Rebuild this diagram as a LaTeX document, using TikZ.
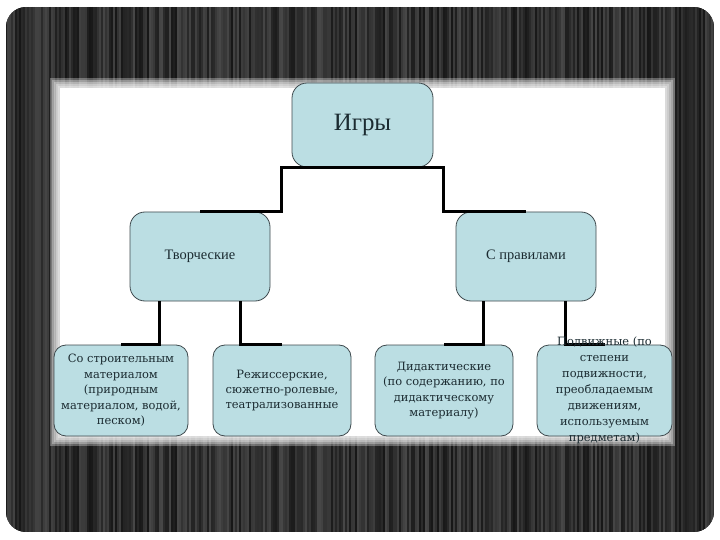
\documentclass[tikz,border=0pt]{standalone}
\usepackage{fontspec}
\setmainfont{Liberation Serif}
\newfontfamily\leaffont{DejaVu Serif}
\usepackage{xcolor}
\usetikzlibrary{calc}
\definecolor{boxfill}{HTML}{BBDEE3}
\definecolor{boxline}{HTML}{3F4A4E}
\definecolor{inktext}{HTML}{1B2B31}

\begin{document}
\begin{tikzpicture}[x=1bp,y=-1bp]
\tikzstyle{box}=[draw=boxline,fill=boxfill,rounded corners=15bp,line width=0.8bp,text=inktext,inner sep=0pt,align=center]
\tikzstyle{leaf}=[box,rounded corners=12bp,minimum height=91bp,font=\leaffont\fontsize{11.5}{15.5}\selectfont]
\tikzstyle{link}=[line width=3bp,black]
\useasboundingbox (0,0) rectangle (720,540);
% dark striped frame
\begin{scope}
\clip[rounded corners=20bp] (6,7) rectangle (714,532);
\fill[black!82] (6,7) rectangle (714,532);
\pgfmathsetseed{7}
\foreach \x in {6,8,...,714}{
  \pgfmathsetmacro\sh{int(72+20*rnd)}
  \draw[black!\sh,line width=1.1bp] (\x,7) -- (\x,532);
}
\end{scope}
% white panel, soft edge
\foreach \k in {0,...,5}
  \fill[white,opacity=0.3] ({50+2*\k},{78+2*\k}) rectangle ({675-2*\k},{446-2*\k});
\fill[white] (60,88) rectangle (665,436);
% the tree
\node[box,minimum width=141bp,minimum height=84bp,font=\fontsize{25}{28}\selectfont] (igry) at (362.5,125) {Игры};
\node[box,minimum width=140bp,minimum height=89bp,font=\fontsize{14.5}{17}\selectfont] (tv) at (200,256.5) {Творческие};
\node[box,minimum width=140bp,minimum height=89bp,font=\fontsize{14.5}{17}\selectfont] (pr) at (526,256.5) {С правилами};
\node[leaf,minimum width=134bp] (so) at (121,390.5) {Со строительным\\материалом\\(природным\\материалом, водой,\\песком)};
\node[leaf,minimum width=138bp] (rezh) at (282,390.5) {Режиссерские,\\сюжетно-ролевые,\\театрализованные};
\node[leaf,minimum width=138bp] (did) at (444,390.5) {Дидактические\\(по содержанию, по\\дидактическому\\материалу)};
\node[leaf,minimum width=135bp] (podv) at (604.5,390.5) {};
\draw[link] (tv.north) -| ($(igry.south west)+(-10,0)$) -- ($(igry.south east)+(10,0)$) |- (pr.north);
\draw[link] (so.north) -| ($(tv.south)+(-41,0)$);
\draw[link] ($(tv.south)+(40,0)$) |- (rezh.north);
\draw[link] (did.north) -| ($(pr.south)+(-43,0)$);
\draw[link] ($(pr.south)+(39,0)$) |- (podv.north);
\node[text=inktext,align=center,inner sep=0pt,font=\leaffont\fontsize{11.5}{16}\selectfont] (podvtext) at (podv) {Подвижные (по\\степени\\подвижности,\\преобладаемым\\движениям,\\используемым\\предметам)};
\end{tikzpicture}
\end{document}
